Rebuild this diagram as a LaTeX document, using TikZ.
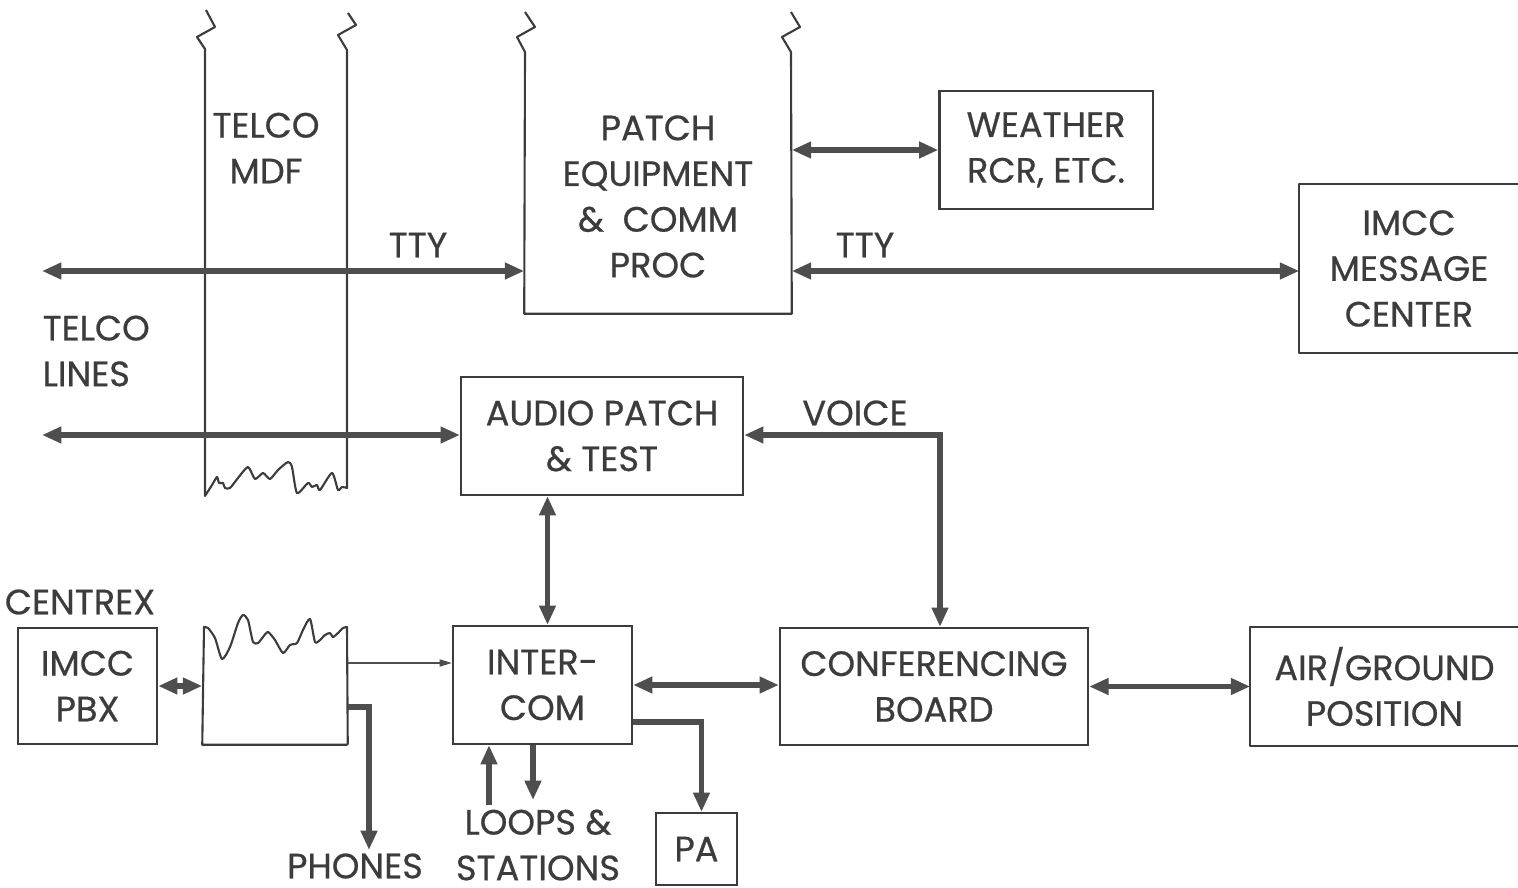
\documentclass[tikz,border=0pt]{standalone}
\usepackage{fontspec}
\setmainfont{Poppins}[FakeBold=0.6]
\usetikzlibrary{arrows.meta, positioning, calc}
\definecolor{ink}{HTML}{3C3C3C}
\definecolor{filo}{HTML}{4E4E4E}
\newcommand{\lettering}{\fontsize{10}{13}\selectfont}
\tikzset{
  blocco/.style={draw=ink, line width=0.6pt, align=center, inner sep=0pt, font=\lettering, text=ink},
  vuoto/.style={align=center, inner sep=0pt, font=\lettering, text=ink},
  etichetta/.style={align=center, inner sep=0pt, font=\lettering, text=ink},
  bordo/.style={draw=ink, line width=0.6pt, line join=round},
  doppia/.style={draw=filo, line width=1.5pt, <->, >={Triangle[length=5.5pt,width=4.5pt]}},
  freccia/.style={draw=filo, line width=1.5pt, ->, >={Triangle[length=5.5pt,width=4.5pt]}},
  sottile/.style={draw=filo, line width=0.5pt, ->, >={Triangle[length=3.5pt,width=2pt]}}
}
\begin{document}
\begin{tikzpicture}[x=0.01cm, y=-0.01cm]
    \useasboundingbox (0,0) rectangle (1518,888);

    % Blocchi
    \node[blocco, minimum width=2.13cm, minimum height=1.18cm] (meteo) at (1046,150) {WEATHER\\RCR, ETC.};
    \node[blocco, minimum width=2.82cm, minimum height=1.18cm] (audio) at (602,436) {AUDIO PATCH\\\& TEST};
    \node[blocco, minimum width=1.79cm, minimum height=1.18cm] (intercom) at (542.5,685) {INTER-\\COM};
    \node[blocco, minimum width=3.08cm, minimum height=1.17cm] (conf) at (934,686.5) {CONFERENCING\\BOARD};
    \node[blocco, minimum width=1.39cm, minimum height=1.16cm] (pbx) at (87.5,686) {IMCC\\PBX};
    \node[blocco, minimum width=0.81cm, minimum height=0.72cm] (pa) at (696.5,849) {PA};

    % Blocchi aperti a destra
    \node[vuoto, minimum width=2.18cm, minimum height=1.67cm] (msg) at (1409,268.5) {IMCC\\MESSAGE\\CENTER};
    \draw[bordo] (msg.north east) -- (msg.north west) -- (msg.south west) -- (msg.south east);
    \node[vuoto, minimum width=2.67cm, minimum height=1.17cm] (air) at (1384.5,686.5) {AIR/GROUND\\POSITION};
    \draw[bordo] (air.north east) -- (air.north west) -- (air.south west) -- (air.south east);

    % Patch equipment (colonna spezzata in alto)
    \node[vuoto, minimum width=2.66cm, minimum height=2.33cm] (patch) at (658,196.5) {PATCH\\EQUIPMENT\\\&\ \ COMM\\PROC};
    \draw[bordo] (525,12) -- (535,27) -- (517,37) -- (525,52) -- (patch.south west)
        -- (patch.south east) -- (791,52) -- (782,37) -- (800,27) -- (791,12);

    % Telco MDF (colonna strappata)
    \node[etichetta] (mdf) at (266,148) {TELCO\\MDF};
    \draw[bordo] (206,10) -- (215,27) -- (197,37) -- (205,49) -- (205,496)
        -- plot[smooth, tension=0.4] coordinates {(205,496) (212,485) (217,477) (219,483) (223,483) (225,488)
            (230,488) (238,478) (248,467) (255,479) (263,473) (270,479) (278,470) (288,462) (292,467)
            (297,493) (308,483) (312,487) (317,485) (320,490) (332,473) (338,490) (342,487) (347,488)}
        -- (347,50) -- (338,35) -- (356,25) -- (348,13);

    \node[vuoto, minimum width=1.44cm, minimum height=1.17cm] (centrale) at (275,685.5) {};
    \draw[bordo] (centrale.south east) -- (centrale.south west) -- (204,627)
        -- plot[smooth, tension=0.4] coordinates {(204,627) (208,628) (215,638) (222,659) (230,647) (238,623)
            (243,615) (248,620) (253,642) (258,643) (263,637) (268,632) (275,640) (283,653) (290,645)
            (297,643) (303,630) (310,619) (315,642) (320,640) (325,635) (330,633) (333,637) (338,633)
            (343,628) (347,627)}
        -- (centrale.south east);

    % Etichette
    \node[etichetta] (tty1) at (418,245) {TTY};
    \node[etichetta] (tty2) at (865,245) {TTY};
    \node[etichetta] (voce lbl) at (855,413) {VOICE};
    \node[etichetta, align=left, anchor=west] (linee) at (42,351) {TELCO\\LINES};
    \node[etichetta] (centrex) at (80,602) {CENTREX};
    \node[etichetta] (telefoni) at (355,866) {PHONES};
    \node[etichetta] (loops) at (538,845) {LOOPS \&\\STATIONS};

    % Estremi liberi
    \coordinate (linea1) at (42,271);
    \coordinate (linea2) at (42,435);
    \coordinate (voce) at (940,435);
    \coordinate (fonend) at (369,850);
    \coordinate (loopA) at (489,805);
    \coordinate (loopB) at (533,800);

    % Collegamenti
    \draw[doppia] (linea1) -- (patch.west |- linea1);
    \draw[doppia] (linea2) -- (audio.west |- linea2);
    \draw[doppia] (patch.east |- meteo.west) -- (meteo.west);
    \draw[doppia] (patch.east |- linea1) -- (msg.west |- linea1);
    \draw[doppia] (audio.east |- voce) -- (voce) -- (voce |- conf.north);
    \draw[doppia] ($(audio.south -| intercom.north)+(5,0)$) -- ($(intercom.north)+(5,0)$);
    \draw[doppia] (intercom.east) -- (intercom.east -| conf.west);
    \draw[doppia] (conf.east) -- (conf.east -| air.west);
    \draw[doppia] (pbx.east) -- (pbx.east -| centrale.west);
    \draw[sottile] (centrale.east |- 0,663) -- (intercom.west |- 0,663);
    \draw[freccia] (intercom.east |- 0,722) -| ($(pa.north)+(5,0)$);
    \draw[freccia] (centrale.east |- 0,707) -| (fonend);
    \draw[freccia] (loopA) -- (loopA |- intercom.south);
    \draw[freccia] (intercom.south -| loopB) -- (loopB);
\end{tikzpicture}
\end{document}
